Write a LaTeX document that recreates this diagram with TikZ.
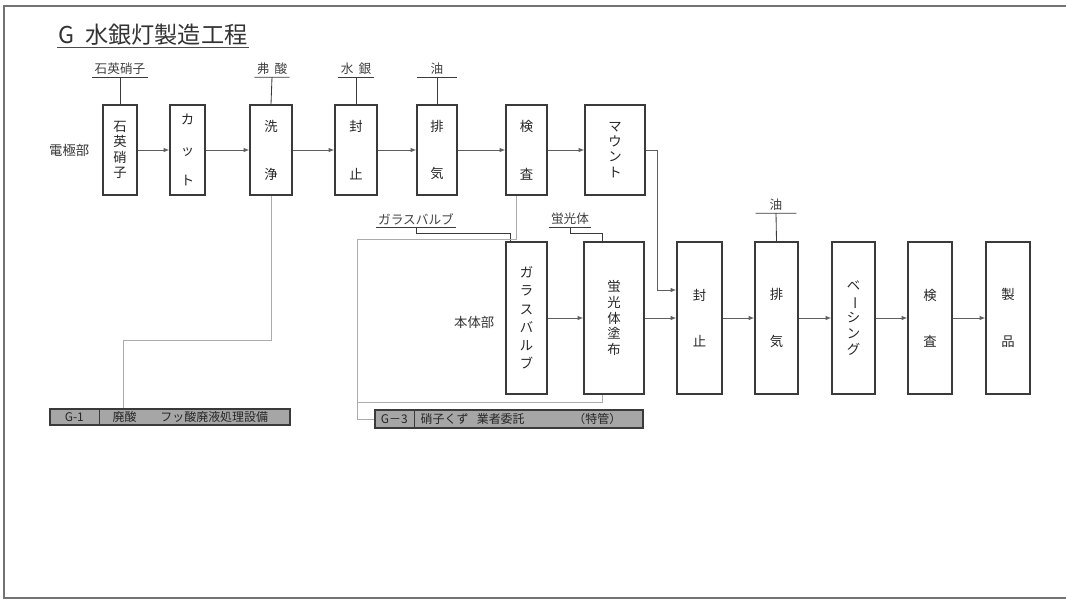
\documentclass[tikz,border=0pt]{standalone}
\usepackage{fontspec}
\setmainfont{Noto Sans CJK JP}
\usepackage{graphicx}
\usetikzlibrary{arrows.meta, positioning, calc}

\definecolor{boxline}{HTML}{3A3A3A}
\definecolor{flowline}{HTML}{5E5E5E}
\definecolor{wasteline}{HTML}{ABABAB}
\definecolor{barfill}{HTML}{A6A6A6}

\begin{document}
\begin{tikzpicture}[
			x=0.025cm, y=-0.025cm,
			topbox/.style={rectangle, draw=boxline, line width=1.1pt, minimum width=#1*0.025cm, minimum height=90*0.025cm, inner sep=0pt},
			lowbox/.style={rectangle, draw=boxline, line width=1.1pt, minimum width=#1*0.025cm, minimum height=152*0.025cm, inner sep=0pt},
			vtext/.style={align=center, text=black!85, font=\fontsize{9.5}{#1}\selectfont},
			material/.style={font=\fontsize{9}{10}\selectfont, text=black!75, inner sep=1.5pt},
			side/.style={font=\fontsize{9.5}{11}\selectfont, text=black!80},
			arrow/.style={-{Latex[length=4pt,width=3.2pt]}, draw=flowline, line width=0.6pt},
			feed/.style={draw=boxline, line width=0.6pt},
			waste/.style={draw=wasteline, line width=0.6pt},
			bar/.style={rectangle, draw=boxline, line width=0.9pt, fill=barfill, inner sep=0pt},
			bartext/.style={font=\fontsize{8.5}{10}\selectfont, text=black!85, inner sep=0pt}
			]
			\useasboundingbox (0,0) rectangle (1066,600);
			\draw[black!55, line width=0.8pt] (1066,6) -- (4,6) -- (4,598) -- (1066,598);
			
			% title
			\node[anchor=south west, font=\fontsize{16.5}{18}\selectfont, text=black!80, inner sep=1pt] (title) at (57,47) {G\hspace{0.45em}水銀灯製造工程};
			\draw[black!70, line width=0.7pt] (title.south west) -- (title.south east);
			
			% electrode line
			\node[topbox=34, vtext=11pt] (quartz) at (120,150) {石\\英\\硝\\子};
			\node[topbox=35, vtext=22pt] (cut) at (187.5,150) {カ\\ッ\\ト};
			\node[topbox=42, vtext=34pt] (wash) at (271,150) {洗\\浄};
			\node[topbox=42, vtext=34pt] (seal1) at (356,150) {封\\止};
			\node[topbox=40, vtext=34pt] (exh1) at (437,150) {排\\気};
			\node[topbox=41, vtext=34pt] (insp1) at (526.5,150) {検\\査};
			\node[topbox=60, vtext=10.8pt] (mount) at (615,150) {マ\\ウ\\ン\\ト};
			\node[side, left=0.2cm of quartz] (electrode) {電極部};
			
			\node[material] (mquartz) at (120,69) {石英硝子};
			\node[material] (macid) at (272,69) {弗\hspace{0.4em}酸};
			\node[material] (mmerc) at (356,69) {水\hspace{0.4em}銀};
			\node[material, minimum width=40*0.025cm] (moil1) at (437,69) {油};
			\foreach \m/\b in {mquartz/quartz, macid/wash, mmerc/seal1, moil1/exh1}
				\draw[feed] (\m.south west) -- (\m.south east) (\m.south) -- (\b.north);
			
			\draw[arrow] (quartz) -- (cut);
			\draw[arrow] (cut) -- (wash);
			\draw[arrow] (wash) -- (seal1);
			\draw[arrow] (seal1) -- (exh1);
			\draw[arrow] (exh1) -- (insp1);
			\draw[arrow] (insp1) -- (mount);
			
			% body line
			\node[lowbox=41, vtext=13pt] (bulb) at (526.5,318) {ガ\\ラ\\ス\\バ\\ル\\ブ};
			\node[lowbox=60, vtext=11.3pt] (phos) at (614,318) {蛍\\光\\体\\塗\\布};
			\node[lowbox=45, vtext=33pt] (seal2) at (699.5,318) {封\\止};
			\node[lowbox=43, vtext=33pt] (exh2) at (776.5,318) {排\\気};
			\node[lowbox=43, vtext=11.3pt] (bake) at (853.5,318) {ベ\\\rotatebox[origin=c]{-90}{ー}\\シ\\ン\\グ};
			\node[lowbox=44, vtext=33pt] (insp2) at (930,318) {検\\査};
			\node[lowbox=44, vtext=33pt] (prod) at (1008,318) {製\\品};
			\node[side, left=0.15cm of bulb, yshift=-3pt] (body) {本体部};
			
			\node[material] (mbulb) at (416,219) {ガラスバルブ};
			\node[material] (mphos) at (570,219) {蛍光体};
			\node[material, minimum width=40*0.025cm] (moil2) at (776,205) {油};
			\draw[feed] (mbulb.south west) -- (mbulb.south east);
			\draw[feed] (mbulb.south) -- ++(0,6) -| ($(bulb.north)+(-16,0)$);
			\draw[feed] (mphos.south west) -- (mphos.south east);
			\draw[feed] (mphos.south) -- ++(0,6) -| ($(phos.north)+(-12,0)$);
			\draw[feed] (moil2.south west) -- (moil2.south east) (moil2.south) -- (exh2.north);
			
			\draw[arrow] (mount.east) -- ++(12,0) |- ($(seal2.west)+(0,-28)$);
			\draw[arrow] (bulb) -- (phos);
			\draw[arrow] (phos) -- (seal2);
			\draw[arrow] (seal2) -- (exh2);
			\draw[arrow] (exh2) -- (bake);
			\draw[arrow] (bake) -- (insp2);
			\draw[arrow] (insp2) -- (prod);
			
			% waste treatment
			\node[bar, minimum width=240*0.025cm, minimum height=16*0.025cm] (g1) at (170,417) {};
			\draw[boxline, line width=0.6pt] ($(g1.north west)+(50,0)$) -- ($(g1.south west)+(50,0)$);
			\node[bartext] (g1id) at ($(g1.west)+(25,0)$) {G-1};
			\node[bartext, anchor=west] (g1txt) at ($(g1.west)+(63,0)$) {廃酸\hspace{2em}フッ酸廃液処理設備};
			
			\node[bar, minimum width=268*0.025cm, minimum height=18*0.025cm] (g3) at (509,419) {};
			\draw[boxline, line width=0.6pt] ($(g3.north west)+(40,0)$) -- ($(g3.south west)+(40,0)$);
			\node[bartext] (g3id) at ($(g3.west)+(20,0)$) {G－3};
			\node[bartext, anchor=west] (g3txt) at ($(g3.west)+(46,0)$) {硝子くず\hspace{0.7em}業者委託};
			\node[bartext] (g3note) at ($(g3.west)+(223,0)$) {（特管）};
			
			\coordinate (w1) at (123,340);
			\coordinate (w2) at (357,239);
			\coordinate (w3) at (357,402);
			\draw[waste] (wash.south) |- (w1) -- (w1 |- g1.north);
			\draw[waste] ($(insp1.south)+(-10,0)$) |- (w2) |- (g3.west);
			\draw[waste] ($(phos.south)+(-12,0)$) |- (w3);
		\end{tikzpicture}
\end{document}
